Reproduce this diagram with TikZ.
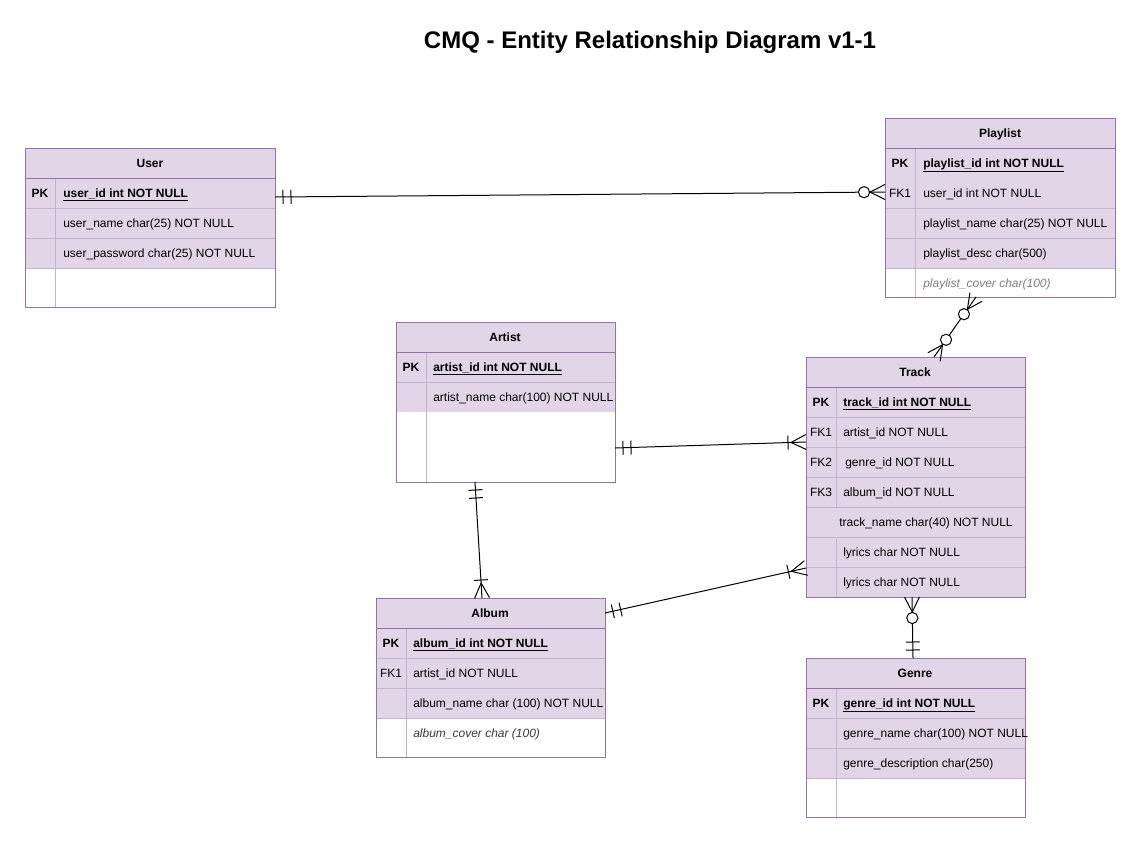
\documentclass[tikz,border=0pt]{standalone}
\usepackage{fontspec}
\setmainfont{Liberation Sans}
\usetikzlibrary{calc}
\definecolor{erfillc}{HTML}{E1D5E7}
\definecolor{erbordc}{HTML}{9673A6}
\definecolor{ersepc}{HTML}{C2B4CA}
\definecolor{ergray}{HTML}{808080}
\definecolor{erdark}{HTML}{3A3A3A}
\tikzset{
  erfill/.style={fill=erfillc},
  bord/.style={draw=erbordc, line width=0.75pt},
  sepl/.style={draw=ersepc, line width=0.75pt},
  erl/.style={draw=black, line width=0.75pt},
  hdr/.style={inner sep=0pt, yshift=-0.75pt, font=\fontsize{9}{11}\selectfont\bfseries, text height=6.6pt, text depth=1.9pt},
  keyt/.style={inner sep=0pt, yshift=-0.75pt, font=\fontsize{9}{11}\selectfont, text height=6.6pt, text depth=1.9pt},
  pkkey/.style={keyt, font=\fontsize{9}{11}\selectfont\bfseries},
  fld/.style={inner sep=0pt, yshift=-0.75pt, anchor=west, font=\fontsize{9}{11}\selectfont, text height=6.6pt, text depth=1.9pt},
  pkf/.style={fld, font=\fontsize{9}{11}\selectfont\bfseries},
  titlet/.style={inner sep=0pt, font=\fontsize{18}{21}\selectfont\bfseries}
}
% ER markers: #1 = entity end, #2 = other end
\newcommand\erbarat[3]{\coordinate (erP) at ($(#1)!#3!(#2)$);
  \draw[erl] ($(erP)!5.25pt!90:(#2)$) -- ($(erP)!5.25pt!-90:(#2)$);}
\newcommand\ermone[2]{\erbarat{#1}{#2}{6pt}\erbarat{#1}{#2}{12pt}}
\newcommand\ercrow[2]{\coordinate (erA) at ($(#1)!11.25pt!(#2)$);
  \draw[erl] ($(#1)!5.6pt!90:(#2)$) -- (erA) -- ($(#1)!5.6pt!-90:(#2)$);}
\newcommand\eronemany[2]{\ercrow{#1}{#2}\erbarat{#1}{#2}{13.5pt}}
\newcommand\erzeromany[2]{\ercrow{#1}{#2}\coordinate (erC) at ($(#1)!15.75pt!(#2)$);
  \draw[erl, fill=white] (erC) circle (4.2pt);}
\begin{document}
\begin{tikzpicture}[x=0.75pt, y=-0.75pt]
\useasboundingbox (0,0) rectangle (1141,843);
\fill[white] (0,0) rectangle (1141,843);

\node[titlet] (title) at (650,42) {CMQ - Entity Relationship Diagram v1-1};

% ---------- User ----------
\fill[erfill] (25,148) rectangle (275,268);
\draw[sepl] (25,208) -- (275,208) (25,238) -- (275,238) (25,268) -- (275,268);
\draw[sepl] (55,178) -- (55,307);
\draw[bord] (25,178) -- (275,178);
\draw[bord] (25,148) rectangle (275,307);
\node[hdr] (userH) at (150,163) {User};
\node[pkkey] (userK1) at (40,193) {PK};
\node[pkf] (userF1) at (63,193) {\underline{user\_id int NOT NULL}};
\node[fld] (userF2) at (63,223) {user\_name char(25) NOT NULL};
\node[fld] (userF3) at (63,253) {user\_password char(25) NOT NULL};

% ---------- Playlist ----------
\fill[erfill] (885,118) rectangle (1115,268);
\draw[sepl] (885,208) -- (1115,208) (885,238) -- (1115,238) (885,268) -- (1115,268);
\draw[sepl] (915,148) -- (915,297);
\draw[bord] (885,148) -- (1115,148);
\draw[bord] (885,118) rectangle (1115,297);
\node[hdr] (plH) at (1000,133) {Playlist};
\node[pkkey] (plK1) at (900,163) {PK};
\node[keyt] (plK2) at (900,193) {FK1};
\node[pkf] (plF1) at (923,163) {\underline{playlist\_id int NOT NULL}};
\node[fld] (plF2) at (923,193) {user\_id int NOT NULL};
\node[fld] (plF3) at (923,223) {playlist\_name char(25) NOT NULL};
\node[fld] (plF4) at (923,253) {playlist\_desc char(500)};
\node[fld, text=ergray] (plF5) at (923,283) {\itshape playlist\_cover char(100)};

% ---------- Artist ----------
\fill[erfill] (396,322) rectangle (615,412);
\draw[sepl] (396,382) -- (615,382);
\draw[sepl] (426,352) -- (426,482);
\draw[bord] (396,352) -- (615,352);
\draw[bord] (396,322) rectangle (615,482);
\node[hdr] (arH) at (505,337) {Artist};
\node[pkkey] (arK1) at (411,367) {PK};
\node[pkf] (arF1) at (433,367) {\underline{artist\_id int NOT NULL}};
\node[fld] (arF2) at (433,397) {artist\_name char(100) NOT NULL};

% ---------- Track ----------
\fill[erfill] (806,357) rectangle (1025,597);
\draw[sepl] (806,417) -- (1025,417) (806,447) -- (1025,447) (806,477) -- (1025,477)
  (806,507) -- (1025,507) (806,537) -- (1025,537) (806,567) -- (1025,567);
\draw[sepl] (836,387) -- (836,507) (836,537) -- (836,597);
\draw[bord] (806,387) -- (1025,387);
\draw[bord] (806,357) rectangle (1025,597);
\node[hdr] (trH) at (915,372) {Track};
\node[pkkey] (trK1) at (821,402) {PK};
\node[keyt] (trK2) at (821,432) {FK1};
\node[keyt] (trK3) at (821,462) {FK2};
\node[keyt] (trK4) at (821,492) {FK3};
\node[pkf] (trF1) at (843,402) {\underline{track\_id int NOT NULL}};
\node[fld] (trF2) at (843,432) {artist\_id NOT NULL};
\node[fld] (trF3) at (845,462) {genre\_id NOT NULL};
\node[fld] (trF4) at (843,492) {album\_id NOT NULL};
\node[fld] (trF5) at (839,522) {track\_name char(40) NOT NULL};
\node[fld] (trF6) at (843,552) {lyrics char NOT NULL};
\node[fld] (trF7) at (843,582) {lyrics char NOT NULL};

% ---------- Album ----------
\fill[erfill] (376,598) rectangle (605,718);
\draw[sepl] (376,658) -- (605,658) (376,688) -- (605,688) (376,718) -- (605,718);
\draw[sepl] (406,628) -- (406,757);
\draw[bord] (376,628) -- (605,628);
\draw[bord] (376,598) rectangle (605,757);
\node[hdr] (alH) at (490,613) {Album};
\node[pkkey] (alK1) at (391,643) {PK};
\node[keyt] (alK2) at (391,673) {FK1};
\node[pkf] (alF1) at (413,643) {\underline{album\_id int NOT NULL}};
\node[fld] (alF2) at (413,673) {artist\_id NOT NULL};
\node[fld] (alF3) at (413,703) {album\_name char (100) NOT NULL};
\node[fld, text=erdark] (alF4) at (413,733) {\itshape album\_cover char (100)};

% ---------- Genre ----------
\fill[erfill] (806,658) rectangle (1025,778);
\draw[sepl] (806,718) -- (1025,718) (806,748) -- (1025,748) (806,778) -- (1025,778);
\draw[sepl] (836,688) -- (836,817);
\draw[bord] (806,688) -- (1025,688);
\draw[bord] (806,658) rectangle (1025,817);
\node[hdr] (geH) at (915,673) {Genre};
\node[pkkey] (geK1) at (821,703) {PK};
\node[pkf] (geF1) at (843,703) {\underline{genre\_id int NOT NULL}};
\node[fld] (geF2) at (843,733) {genre\_name char(100) NOT NULL};
\node[fld] (geF3) at (843,763) {genre\_description char(250)};

% ---------- connector end points ----------
\coordinate (uP) at (275,197);
\coordinate (pU) at (885,192);
\coordinate (pT) at (976,297);
\coordinate (tP) at (934,357);
\coordinate (aT) at (615,448);
\coordinate (tA) at (806,442);
\coordinate (aAl) at (475,482);
\coordinate (alA) at (482,598);
\coordinate (alT) at (605,613);
\coordinate (tAl) at (806,568);
\coordinate (tG) at (912,597);
\coordinate (gT) at (913,658);

% ---------- connectors ----------
\draw[erl] (uP) -- (pU);
\ermone{uP}{pU}
\erzeromany{pU}{uP}

\draw[erl] (pT) -- (tP);
\erzeromany{pT}{tP}
\erzeromany{tP}{pT}

\draw[erl] (aT) -- (tA);
\ermone{aT}{tA}
\eronemany{tA}{aT}

\draw[erl] (aAl) -- (alA);
\ermone{aAl}{alA}
\eronemany{alA}{aAl}

\draw[erl] (alT) -- (tAl);
\ermone{alT}{tAl}
\eronemany{tAl}{alT}

\draw[erl] (tG) -- (gT);
\erzeromany{tG}{gT}
\ermone{gT}{tG}
\end{tikzpicture}
\end{document}
